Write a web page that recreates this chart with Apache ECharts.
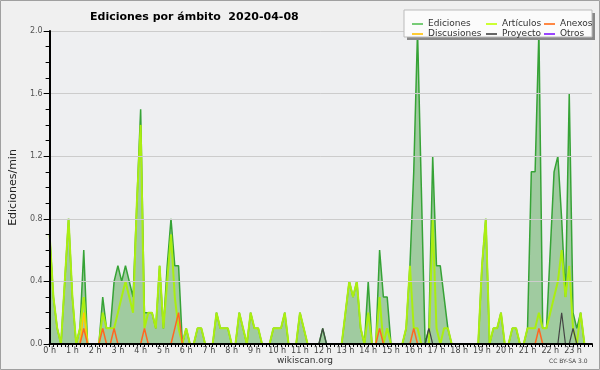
<!DOCTYPE html>
<html><head><meta charset="utf-8">
<script src="https://cdn.jsdelivr.net/npm/echarts@6/dist/echarts.min.js"></script>
<style>html,body{margin:0;padding:0;background:#f0f0f0}#c{width:600px;height:370px}</style>
</head><body><div id="c"></div>
<script>
// tick labels (one per hour; data are 10-minute buckets)
const hourLabels = ['0 h','1 h','2 h','3 h','4 h','5 h','6 h','7 h','8 h','9 h','10 h','11 h','12 h','13 h','14 h','15 h','16 h','17 h','18 h','19 h','20 h','21 h','22 h','23 h'];
const yTicks = [0, 0.4, 0.8, 1.2, 1.6, 2.0];

const ediciones = [
0.7,0.3,0.1,0,0.4,0.8,0.3,0,0.1,0.6,
0,0,0,0,0.3,0.1,0.1,0.4,0.5,0.4,
0.5,0.4,0.3,0.9,1.5,0.2,0.2,0.2,0.1,0.5,
0.1,0.5,0.8,0.5,0.5,0,0.1,0,0,0.1,
0.1,0,0,0,0.2,0.1,0.1,0.1,0,0,
0.2,0.1,0,0.2,0.1,0.1,0,0,0,0.1,
0.1,0.1,0.2,0,0,0,0.2,0.1,0,0,
0,0,0.1,0,0,0,0,0,0.2,0.4,
0.3,0.4,0.1,0,0.4,0,0,0.6,0.3,0.3,
0,0,0,0,0.1,0.5,1.1,2.0,1.0,0,
0.1,1.2,0.5,0.5,0.3,0.1,0,0,0,0,
0,0,0,0,0.5,0.8,0,0.1,0.1,0.2,
0,0,0.1,0.1,0,0,0.1,1.1,1.1,2.0,
0.1,0.1,0.6,1.1,1.2,0.8,0.3,1.6,0.2,0.1,
0.2,0,0,0];
const articulos = [
0.7,0.3,0.1,0,0.4,0.8,0.3,0,0.1,0.3,
0,0,0,0,0.2,0.1,0.1,0.1,0.2,0.3,
0.4,0.3,0.2,0.9,1.4,0.1,0.2,0.2,0.1,0.5,
0.1,0.4,0.7,0.3,0.1,0,0.1,0,0,0.1,
0.1,0,0,0,0.2,0.1,0.1,0.1,0,0,
0.2,0.1,0,0.2,0.1,0.1,0,0,0,0.1,
0.1,0.1,0.2,0,0,0,0.2,0.1,0,0,
0,0,0,0,0,0,0,0,0.2,0.4,
0.3,0.4,0.1,0,0.2,0,0,0.3,0,0.1,
0,0,0,0,0.1,0.5,0.1,0.1,0,0,
0,0.8,0.1,0,0.1,0.1,0,0,0,0,
0,0,0,0,0.5,0.8,0,0.1,0.1,0.2,
0,0,0.1,0.1,0,0,0.1,0.1,0.1,0.2,
0.1,0.1,0.2,0.3,0.4,0.6,0.3,0.5,0.1,0,
0.2,0,0,0];
const anexos = [
0,0,0,0,0,0,0,0,0,0.1,
0,0,0,0,0.1,0,0,0.1,0,0,
0,0,0,0,0,0.1,0,0,0,0,
0,0,0,0.1,0.2,0,0,0,0,0,
0,0,0,0,0,0,0,0,0,0,
0,0,0,0,0,0,0,0,0,0,
0,0,0,0,0,0,0,0,0,0,
0,0,0,0,0,0,0,0,0,0,
0,0,0,0,0,0,0,0.1,0,0,
0,0,0,0,0,0,0.1,0,0,0,
0,0,0,0,0,0,0,0,0,0,
0,0,0,0,0,0,0,0,0,0,
0,0,0,0,0,0,0,0,0,0.1,
0,0,0,0,0,0,0,0,0,0,
0,0,0,0];
const discusiones = [
0,0,0,0,0,0,0,0,0,0.2,
0,0,0,0,0,0,0,0,0,0,
0,0,0,0,0,0,0,0,0,0,
0,0,0,0,0,0,0,0,0,0,
0,0,0,0,0,0,0,0,0,0,
0,0,0,0,0,0,0,0,0,0,
0,0,0,0,0,0,0,0,0,0,
0,0,0,0,0,0,0,0,0,0,
0,0,0,0,0,0,0,0,0,0,
0,0,0,0,0,0,0,0,0,0,
0,0,0,0,0,0,0,0,0,0,
0,0,0,0,0,0,0,0,0,0,
0,0,0,0,0,0,0,0,0,0,
0,0,0,0,0,0,0,0,0,0,
0,0,0,0];
const proyecto = [
0,0,0,0,0,0,0,0,0,0,
0,0,0,0,0,0,0,0,0,0,
0,0,0,0,0,0,0,0,0,0,
0,0,0,0,0,0,0,0,0,0,
0,0,0,0,0,0,0,0,0,0,
0,0,0,0,0,0,0,0,0,0,
0,0,0,0,0,0,0,0,0,0,
0,0,0.1,0,0,0,0,0,0,0,
0,0,0,0,0,0,0,0,0,0,
0,0,0,0,0,0,0,0,0,0,
0.1,0,0,0,0,0,0,0,0,0,
0,0,0,0,0,0,0,0,0,0,
0,0,0,0,0,0,0,0,0,0,
0,0,0,0,0,0.2,0,0,0.1,0,
0,0,0,0];
const otros = new Array(144).fill(0);

const categories = ediciones.map((_, i) => (i % 6 === 0 ? hourLabels[i / 6] : ''));

const FONT = 'DejaVu Sans';
const chart = echarts.init(document.getElementById('c'), null, {renderer: 'canvas'});

function line(name, data, color, width, extra) {
  return Object.assign({
    name, type: 'line', data, showSymbol: false, symbol: 'none',
    itemStyle: {color}, lineStyle: {color, width}, animation: false, z: 2
  }, extra || {});
}

const legendBase = {
  orient: 'vertical', top: 14, itemWidth: 11, itemHeight: 2, itemGap: 0, icon: 'rect',
  textStyle: {fontFamily: FONT, fontSize: 9, color: '#333', lineHeight: 10}, z: 110,
  selectedMode: false
};

chart.setOption({
  backgroundColor: '#f0f0f0',
  animation: false,
  title: {
    text: 'Ediciones por ámbito  2020-04-08', left: 85, top: 7,
    textStyle: {fontFamily: FONT, fontSize: 11, fontWeight: 'bold', color: '#000'}
  },
  grid: {left: 46, right: 8, top: 31, bottom: 26, show: true, backgroundColor: '#eeeff1', borderWidth: 0},
  legend: [
    Object.assign({}, legendBase, {left: 407, data: [{name: 'Ediciones', itemStyle: {color: '#77cc77'}}, {name: 'Discusiones', itemStyle: {color: '#ffcc33'}}]}),
    Object.assign({}, legendBase, {left: 481, data: [{name: 'Artículos', itemStyle: {color: '#ccff33'}}, {name: 'Proyecto', itemStyle: {color: '#666666'}}]}),
    Object.assign({}, legendBase, {left: 539, data: [{name: 'Anexos', itemStyle: {color: '#ff8844'}}, {name: 'Otros', itemStyle: {color: '#9944ff'}}]})
  ],
  xAxis: {
    type: 'category', data: categories, boundaryGap: false, z: 10,
    axisLine: {lineStyle: {color: '#000', width: 2}},
    axisTick: {show: true, interval: 0, length: 3, lineStyle: {color: '#000'}},
    axisLabel: {interval: 5, margin: 3, fontFamily: FONT, fontSize: 8, color: '#444'},
    splitLine: {show: false}
  },
  yAxis: {
    type: 'value', min: 0, max: 2, interval: 0.4, z: 10,
    name: 'Ediciones/min', nameLocation: 'middle', nameGap: 30, nameRotate: 90,
    nameTextStyle: {fontFamily: FONT, fontSize: 11, color: '#222'},
    axisLine: {show: true, lineStyle: {color: '#000', width: 2}},
    axisTick: {show: true, length: 6, lineStyle: {color: '#000'}},
    minorTick: {show: true, splitNumber: 4, length: 4, lineStyle: {color: '#000'}},
    axisLabel: {margin: 7, fontFamily: FONT, fontSize: 8, color: '#555', formatter: v => v.toFixed(1)},
    splitLine: {show: true, lineStyle: {color: '#cccccc', width: 1}}
  },
  series: [
    line('Ediciones', ediciones, '#36a336', 1.5, {areaStyle: {color: 'rgba(82,167,79,0.5)', opacity: 1}}),
    line('Artículos', articulos, '#aaee11', 2),
    line('Discusiones', discusiones, '#ffcc00', 1.5),
    line('Anexos', anexos, '#ff6622', 1.5),
    line('Proyecto', proyecto, '#444444', 1.2),
    line('Otros', otros, '#9933ff', 1.5)
  ],
  graphic: [
    {type: 'rect', z: 100, shape: {x: 407, y: 13, width: 188, height: 27}, style: {fill: '#888'}},
    {type: 'rect', z: 101, shape: {x: 404, y: 10, width: 188, height: 27}, style: {fill: '#fbfbfb', stroke: '#bbb', lineWidth: 1}},
    {type: 'text', z: 100, left: 277, top: 356, style: {text: 'wikiscan.org', fontFamily: FONT, fontSize: 9, fill: '#333'}},
    {type: 'text', z: 100, left: 549, top: 358, style: {text: 'CC BY-SA 3.0', fontFamily: FONT, fontSize: 6, fill: '#444'}},
    {type: 'rect', z: 200, shape: {x: 0.5, y: 0.5, width: 599, height: 369}, style: {fill: 'none', stroke: '#a0a0a0', lineWidth: 1}}
  ]
});
</script></body></html>
